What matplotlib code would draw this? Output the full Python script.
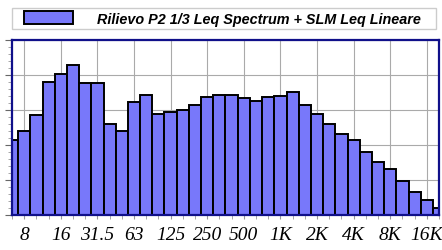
import numpy as np
import matplotlib
matplotlib.use("Agg")
import matplotlib.pyplot as plt
from matplotlib.patches import Rectangle
from matplotlib.ticker import FixedLocator, NullFormatter, MultipleLocator

# 1/3 octave bands, 6.3 Hz .. 20 kHz
bands = ["6.3", "8", "10", "12.5", "16", "20", "25", "31.5", "40", "50", "63", "80",
         "100", "125", "160", "200", "250", "315", "400", "500", "630", "800", "1K", "1.25K",
         "1.6K", "2K", "2.5K", "3.15K", "4K", "5K", "6.3K", "8K", "10K", "12.5K", "16K", "20K"]
leq = [51.3, 54.1, 58.6, 68.0, 70.4, 72.8, 67.6, 67.7, 56.0, 54.0, 62.2, 64.4,
       59.0, 59.5, 59.9, 61.5, 63.8, 64.2, 64.4, 63.5, 62.7, 63.7, 64.0, 65.1,
       61.5, 58.8, 56.1, 53.1, 51.3, 48.1, 45.1, 43.1, 39.6, 36.6, 34.2, 32.0]
tick_labels = ["8", "16", "31.5", "63", "125", "250", "500", "1K", "2K", "4K", "8K", "16K"]
legend_text = "Rilievo P2 1/3 Leq Spectrum + SLM Leq Lineare"

# exact band centres (base-2 thirds around 8 Hz)
fc = 8 * 2.0 ** ((np.arange(len(bands)) - 1) / 3.0)
lo = fc * 2 ** (-1 / 6)
hi = fc * 2 ** (1 / 6)

W, H = 442, 251
fig = plt.figure(figsize=(W / 100, H / 100), dpi=100)
ax = fig.add_axes([12 / W, 1 - 216 / H, 427 / W, 175 / H])

ax.bar(lo, leq, width=hi - lo, align="edge", color="#7878fa",
       edgecolor="black", linewidth=1.4, zorder=3, label=legend_text)

ax.set_xscale("log")
ax.set_xlim(fc[0], fc[-1])
ax.set_ylim(30, 80)

major = fc[1::3]
ax.xaxis.set_major_locator(FixedLocator(major))
ax.xaxis.set_minor_locator(FixedLocator(fc))
ax.set_xticklabels(tick_labels, fontfamily="Liberation Serif", fontstyle="italic", fontsize=14)
ax.xaxis.set_minor_formatter(NullFormatter())
ax.tick_params(axis="x", which="both", direction="out", length=3, color="#999999", pad=5)

ax.yaxis.set_major_locator(MultipleLocator(10))
ax.yaxis.set_minor_locator(MultipleLocator(2))
ax.tick_params(axis="y", which="major", length=5, color="#666666", labelsize=9)
ax.tick_params(axis="y", which="minor", length=3, color="#999999")

ax.grid(True, which="major", color="#aaaaaa", linewidth=0.8, zorder=0)
ax.set_axisbelow(True)
for s in ax.spines.values():
    s.set_color("#10108a")
    s.set_linewidth(1.6)
    s.set_zorder(4)

# legend box (drawn under the axes so the legend sits on top)
fig.add_artist(Rectangle((12 / W, 1 - 30 / H), 424 / W, 21 / H, transform=fig.transFigure,
                         facecolor="white", edgecolor="#cccccc", linewidth=1.0, zorder=-1))
fs = 10.4
leg = ax.legend(loc="center left", bbox_to_anchor=(24 / W, 1 - 19.5 / H),
                bbox_transform=fig.transFigure, frameon=False,
                handlelength=49 / (fs * 1.389), handleheight=15 / (fs * 1.389),
                borderpad=0, borderaxespad=0, handletextpad=1.65,
                prop={"family": "Liberation Sans", "weight": "bold", "style": "italic", "size": fs})

fig.savefig("out.png", dpi=100)
